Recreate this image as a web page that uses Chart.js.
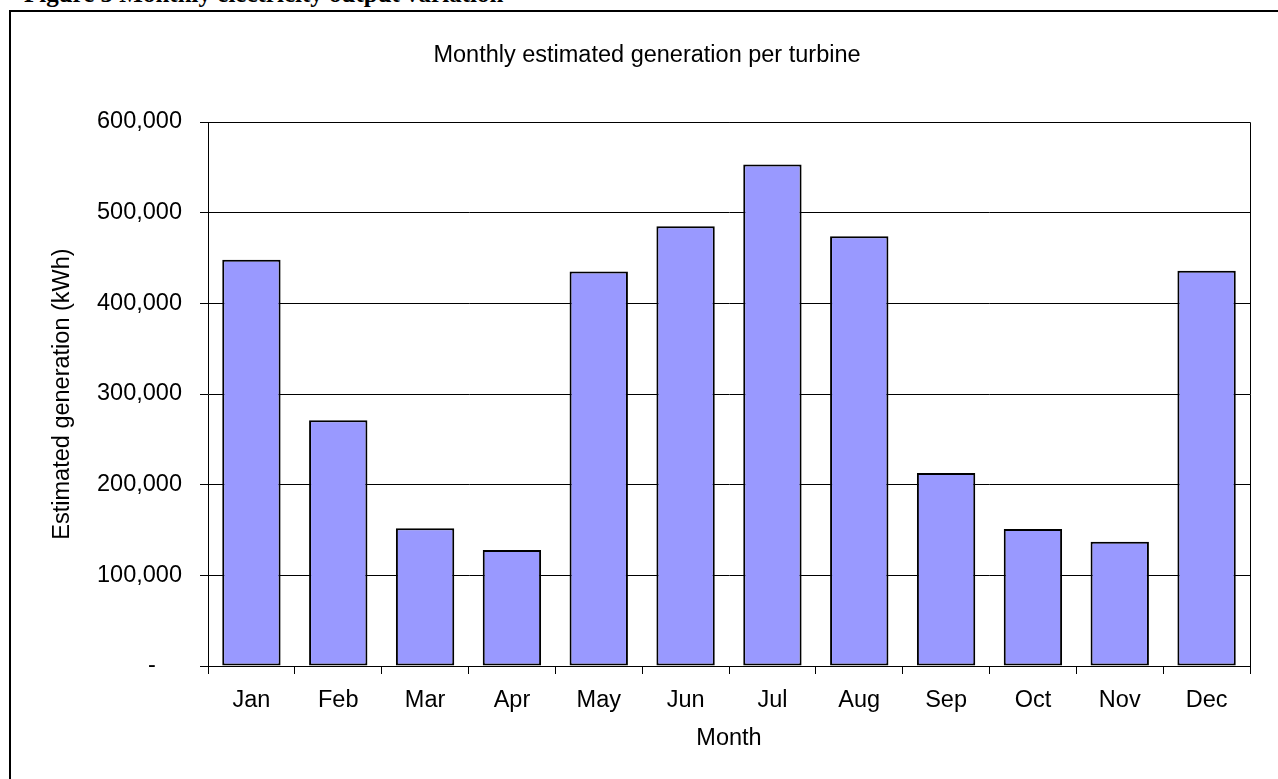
<!DOCTYPE html>
<html lang="en">
<head>
    <meta charset="UTF-8">
    <title>Monthly estimated generation per turbine</title>
    <script src="https://cdn.jsdelivr.net/npm/chart.js"></script>
    <style>
        body {
            margin: 0;
            background: #fff;
            overflow: hidden;
        }
        .caption {
            position: absolute;
            left: 24px;
            top: -19px;
            font: bold 25px/26px "Liberation Serif", "Times New Roman", serif;
            color: #000;
            white-space: nowrap;
        }
        .frame {
            position: absolute;
            left: 9px;
            top: 10px;
            width: 1400px;
            height: 900px;
            border-left: 2px solid #000;
            border-top: 2px solid #000;
        }
        .chart-title {
            position: absolute;
            left: 647px;
            top: 40px;
            transform: translateX(-50%);
            font: 23.5px/28px "Liberation Sans", Arial, sans-serif;
            color: #000;
            white-space: nowrap;
            z-index: 2;
        }
        #chart {
            position: absolute;
            left: 0;
            top: 0;
        }
    </style>
</head>
<body>
    <div class="caption">Figure 5 Monthly electricity output variation</div>
    <div class="frame"></div>
    <div class="chart-title">Monthly estimated generation per turbine</div>
    <canvas id="chart" width="1278" height="779"></canvas>
    <script>
        // values (kWh per turbine)
        const months = ["Jan", "Feb", "Mar", "Apr", "May", "Jun", "Jul", "Aug", "Sep", "Oct", "Nov", "Dec"];
        const generation = [448000, 271000, 152000, 128000, 435000, 485000, 553000, 474000, 213000, 151000, 137000, 436000];
        const yTicks = [0, 100000, 200000, 300000, 400000, 500000, 600000];

        const font = "'Liberation Sans', Arial, sans-serif";

        // box round the plot area (top line is the 600,000 gridline anyway)
        const plotFrame = {
            id: 'plotFrame',
            afterDraw(chart) {
                const a = chart.chartArea;
                const ctx = chart.ctx;
                ctx.save();
                ctx.strokeStyle = '#000';
                ctx.lineWidth = 1;
                ctx.beginPath();
                ctx.moveTo(a.left, a.top + 0.5);
                ctx.lineTo(a.right + 0.5, a.top + 0.5);
                ctx.lineTo(a.right + 0.5, a.bottom);
                ctx.stroke();
                ctx.restore();
            }
        };

        new Chart(document.getElementById('chart'), {
            type: 'bar',
            data: {
                labels: months,
                datasets: [{
                    label: 'Estimated generation (kWh)',
                    data: generation,
                    backgroundColor: '#9999ff',
                    borderColor: '#000',
                    borderWidth: 2,
                    borderSkipped: false,
                    barPercentage: 0.672,
                    categoryPercentage: 1
                }]
            },
            options: {
                responsive: false,
                animation: false,
                layout: { padding: { left: 0, right: 28, top: 122, bottom: 0 } },
                plugins: {
                    legend: { display: false },
                    tooltip: { enabled: false },
                    title: { display: false }
                },
                scales: {
                    x: {
                        afterFit: s => { s.height = 113; },
                        grid: {
                            drawOnChartArea: false,
                            drawTicks: true,
                            tickLength: 8,
                            color: '#000',
                            offset: true
                        },
                        border: { color: '#000', width: 1 },
                        ticks: {
                            color: '#000',
                            padding: 12,
                            font: { family: font, size: 23.5 }
                        },
                        title: {
                            display: true,
                            text: 'Month',
                            color: '#000',
                            font: { family: font, size: 23.5 },
                            padding: { top: 10, bottom: 26 }
                        }
                    },
                    y: {
                        min: yTicks[0],
                        max: yTicks[yTicks.length - 1],
                        afterFit: s => { s.width = 208; },
                        afterBuildTicks: s => { s.ticks = yTicks.map(v => ({ value: v })); },
                        grid: {
                            color: '#000',
                            lineWidth: 1,
                            tickLength: 8
                        },
                        border: { color: '#000', width: 1 },
                        ticks: {
                            color: '#000',
                            padding: 18,
                            font: { family: font, size: 23.5 },
                            callback: v => v === 0 ? '-    ' : v.toLocaleString('en-US')
                        },
                        title: {
                            display: true,
                            text: 'Estimated generation (kWh)',
                            color: '#000',
                            font: { family: font, size: 23.5 },
                            padding: { top: 48, bottom: 0 }
                        }
                    }
                }
            },
            plugins: [plotFrame]
        });
    </script>
</body>
</html>
